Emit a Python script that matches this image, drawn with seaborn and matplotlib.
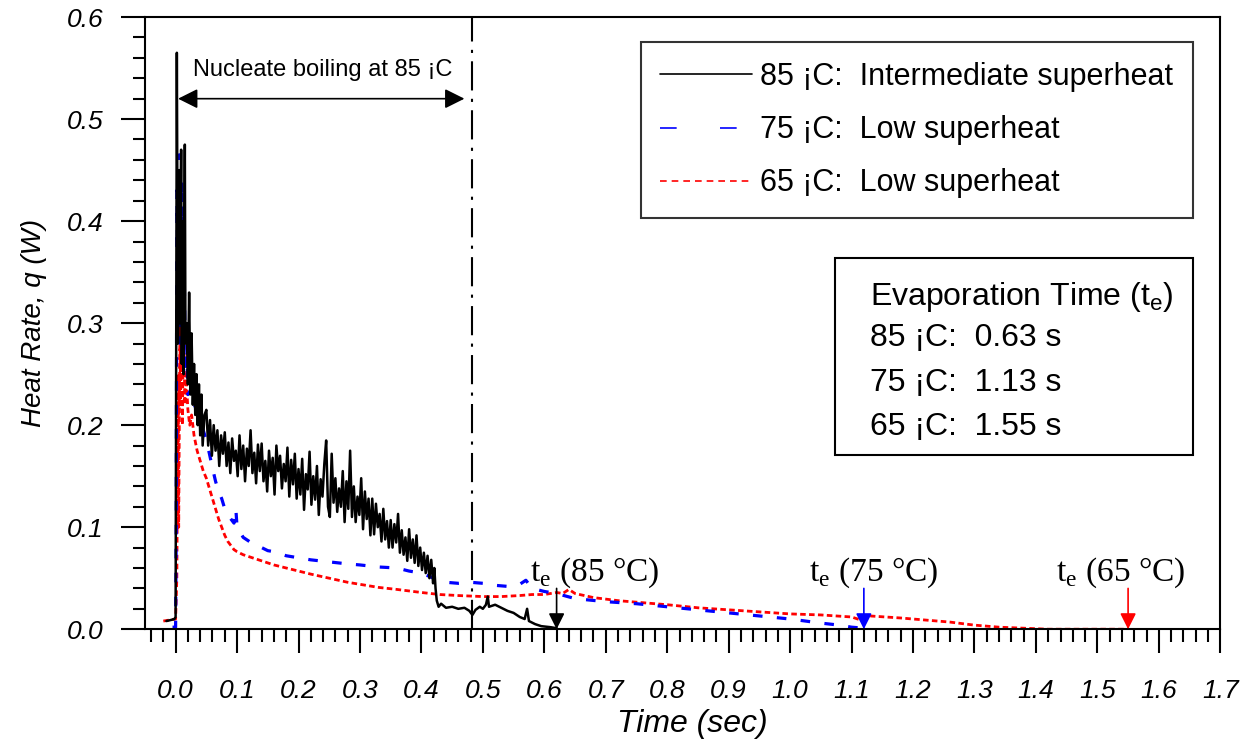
import pandas as pd
import matplotlib
matplotlib.use("Agg")
import matplotlib.pyplot as plt
import seaborn as sns
from matplotlib.lines import Line2D
from matplotlib.ticker import FixedLocator, MultipleLocator, FormatStrFormatter
from matplotlib.patches import Rectangle

sns.set_style("ticks")
plt.rcParams['font.family'] = ['Liberation Sans', 'DejaVu Sans']
plt.rcParams['text.color'] = 'black'
plt.rcParams['axes.labelcolor'] = 'black'
plt.rcParams['xtick.color'] = 'black'
plt.rcParams['ytick.color'] = 'black'

# 85 C curve (intermediate superheat)
t85 = [-0.015, -0.008, -0.002, 0.0, 0.001, 0.002, 0.003, 0.004, 0.006, 0.007,
       0.009, 0.010, 0.012, 0.013, 0.015, 0.016, 0.018, 0.020, 0.022, 0.024,
       0.026, 0.028, 0.030, 0.032, 0.034, 0.036, 0.038, 0.040, 0.042, 0.044, 0.047,
       0.050, 0.053, 0.056, 0.059, 0.062, 0.065, 0.068, 0.071, 0.074, 0.077,
       0.080, 0.083, 0.086, 0.089, 0.092, 0.095, 0.098, 0.101, 0.104, 0.107,
       0.110, 0.113, 0.116, 0.119, 0.122, 0.125, 0.128, 0.131, 0.134, 0.137,
       0.140, 0.143, 0.146, 0.149, 0.152, 0.155, 0.158, 0.161, 0.164, 0.167,
       0.170, 0.173, 0.176, 0.179, 0.182, 0.185, 0.188, 0.191, 0.194, 0.197,
       0.200, 0.203, 0.206, 0.209, 0.212, 0.215, 0.218, 0.221, 0.224, 0.227,
       0.230, 0.233, 0.236, 0.239, 0.242, 0.245, 0.248, 0.251, 0.254, 0.257,
       0.260, 0.263, 0.266, 0.269, 0.272, 0.275, 0.278, 0.281, 0.284, 0.287,
       0.290, 0.293, 0.296, 0.299, 0.302, 0.305, 0.308, 0.311, 0.314, 0.317,
       0.320, 0.323, 0.326, 0.329, 0.332, 0.335, 0.338, 0.341, 0.344, 0.347,
       0.350, 0.353, 0.356, 0.359, 0.362, 0.365, 0.368, 0.371, 0.374, 0.377,
       0.380, 0.383, 0.386, 0.389, 0.392, 0.395, 0.398, 0.401, 0.404, 0.407,
       0.410, 0.413, 0.416, 0.419,
       0.421, 0.423, 0.425, 0.428, 0.432, 0.440, 0.450, 0.460, 0.470, 0.478,
       0.483, 0.488, 0.495, 0.500, 0.505, 0.508, 0.510, 0.520, 0.530, 0.540,
       0.550, 0.560, 0.568, 0.572, 0.575, 0.585, 0.595, 0.610, 0.620]
q85 = [0.008, 0.009, 0.010, 0.012, 0.300, 0.565, 0.400, 0.280, 0.450, 0.300,
       0.470, 0.260, 0.400, 0.250, 0.475, 0.280, 0.300, 0.240, 0.330, 0.230,
       0.290, 0.220, 0.260, 0.210, 0.250, 0.200, 0.240, 0.190, 0.230, 0.180, 0.210,
       0.215, 0.180, 0.205, 0.170, 0.200, 0.175, 0.195, 0.160, 0.190, 0.172,
       0.193, 0.160, 0.183, 0.153, 0.187, 0.165, 0.175, 0.150, 0.190, 0.157,
       0.180, 0.145, 0.177, 0.160, 0.195, 0.153, 0.173, 0.143, 0.181, 0.155,
       0.182, 0.145, 0.165, 0.135, 0.175, 0.150, 0.168, 0.132, 0.180, 0.155,
       0.170, 0.138, 0.162, 0.145, 0.178, 0.130, 0.166, 0.142, 0.172, 0.128,
       0.157, 0.132, 0.167, 0.117, 0.152, 0.137, 0.174, 0.122, 0.150, 0.127,
       0.160, 0.112, 0.147, 0.130, 0.162, 0.185, 0.120, 0.110, 0.172, 0.124,
       0.148, 0.115, 0.138, 0.120, 0.155, 0.105, 0.145, 0.118, 0.175, 0.110,
       0.140, 0.105, 0.130, 0.112, 0.148, 0.098, 0.135, 0.108, 0.128, 0.092,
       0.128, 0.093, 0.123, 0.100, 0.113, 0.086, 0.118, 0.088, 0.106, 0.080,
       0.107, 0.080, 0.103, 0.085, 0.113, 0.075, 0.097, 0.073, 0.090, 0.067,
       0.098, 0.070, 0.088, 0.065, 0.092, 0.062, 0.080, 0.058, 0.075, 0.055,
       0.072, 0.050, 0.068, 0.045,
       0.060, 0.040, 0.028, 0.022, 0.025, 0.021, 0.022, 0.020, 0.021, 0.018,
       0.014, 0.019, 0.022, 0.020, 0.024, 0.032, 0.022, 0.024, 0.021, 0.018,
       0.016, 0.012, 0.010, 0.020, 0.008, 0.005, 0.003, 0.002, 0.001]

# 75 C curve (low superheat)
t75 = [-0.005, 0.0, 0.001, 0.002, 0.004, 0.006, 0.008, 0.010, 0.012, 0.014,
       0.016, 0.018, 0.020, 0.025, 0.030, 0.035, 0.040, 0.045, 0.050, 0.055,
       0.060, 0.065, 0.070, 0.075, 0.080, 0.085, 0.090, 0.095, 0.098, 0.100,
       0.105, 0.110, 0.120, 0.130, 0.140, 0.150, 0.160, 0.180, 0.200, 0.220,
       0.250, 0.280, 0.300, 0.330, 0.360, 0.380, 0.400, 0.420, 0.440, 0.460,
       0.480, 0.500, 0.520, 0.540, 0.560, 0.570, 0.580, 0.600, 0.620, 0.650,
       0.700, 0.750, 0.800, 0.850, 0.900, 0.950, 1.000, 1.050, 1.080, 1.100, 1.120]
q75 = [0.002, 0.002, 0.100, 0.430, 0.320, 0.465, 0.280, 0.440, 0.260, 0.350,
       0.250, 0.280, 0.230, 0.235, 0.220, 0.215, 0.205, 0.195, 0.185, 0.172,
       0.158, 0.145, 0.135, 0.128, 0.118, 0.112, 0.108, 0.104, 0.118, 0.100,
       0.095, 0.090, 0.086, 0.082, 0.080, 0.077, 0.076, 0.072, 0.070, 0.068,
       0.066, 0.064, 0.063, 0.061, 0.060, 0.057, 0.055, 0.050, 0.046, 0.045,
       0.046, 0.045, 0.043, 0.042, 0.044, 0.048, 0.040, 0.037, 0.035, 0.030,
       0.027, 0.025, 0.022, 0.019, 0.016, 0.013, 0.010, 0.006, 0.004, 0.002, 0.001]

# 65 C curve (low superheat)
t65 = [-0.020, -0.010, 0.0, 0.002, 0.004, 0.005, 0.007, 0.008, 0.010, 0.011,
       0.013, 0.015, 0.017, 0.020, 0.023, 0.026, 0.030, 0.035, 0.040, 0.045,
       0.050, 0.055, 0.060, 0.065, 0.070, 0.075, 0.080, 0.085, 0.090, 0.095,
       0.100, 0.110, 0.120, 0.140, 0.160, 0.180, 0.200, 0.220, 0.250, 0.280,
       0.300, 0.330, 0.360, 0.400, 0.430, 0.460, 0.500, 0.530, 0.560, 0.580,
       0.600, 0.620, 0.630, 0.640, 0.650, 0.680, 0.720, 0.760, 0.800, 0.850,
       0.900, 0.950, 1.000, 1.050, 1.100, 1.115, 1.130, 1.180, 1.220, 1.260,
       1.300, 1.340, 1.380, 1.420, 1.550]
q65 = [0.008, 0.009, 0.010, 0.050, 0.250, 0.100, 0.300, 0.220, 0.330, 0.200,
       0.310, 0.220, 0.250, 0.215, 0.200, 0.210, 0.190, 0.175, 0.165, 0.155,
       0.148, 0.138, 0.128, 0.118, 0.108, 0.100, 0.092, 0.086, 0.082, 0.078,
       0.076, 0.073, 0.071, 0.067, 0.063, 0.060, 0.057, 0.054, 0.050, 0.046,
       0.044, 0.041, 0.039, 0.036, 0.034, 0.033, 0.032, 0.032, 0.033, 0.034,
       0.034, 0.036, 0.035, 0.039, 0.035, 0.031, 0.028, 0.026, 0.024, 0.021,
       0.019, 0.017, 0.015, 0.014, 0.012, 0.009, 0.013, 0.011, 0.009, 0.007,
       0.004, 0.002, 0.001, 0.000, 0.000]

labels = ["85 ¡C:  Intermediate superheat", "75 ¡C:  Low superheat", "65 ¡C:  Low superheat"]
evap_lines = ["85 ¡C:  0.63 s", "75 ¡C:  1.13 s", "65 ¡C:  1.55 s"]
te_times = [0.62, 1.12, 1.55]
te_text_x = [0.577, 1.031, 1.432]
te_names = ["85 °C", "75 °C", "65 °C"]
te_colors = ["black", "blue", "red"]
xticks = [0.0, 0.1, 0.2, 0.3, 0.4, 0.5, 0.6, 0.7, 0.8, 0.9, 1.0, 1.1, 1.2, 1.3, 1.4, 1.5, 1.6, 1.7]
yticks = [0.0, 0.1, 0.2, 0.3, 0.4, 0.5, 0.6]
boiling_end = 0.482

df85 = pd.DataFrame({"t": t85, "q": q85})
df75 = pd.DataFrame({"t": t75, "q": q75})
df65 = pd.DataFrame({"t": t65, "q": q65})

fig = plt.figure(figsize=(12.49, 7.42), dpi=100)
ax = fig.add_axes([0.116, 0.152, 0.861, 0.825])

sns.lineplot(data=df65, x="t", y="q", ax=ax, color="red", linewidth=2.0,
             sort=False, estimator=None)
ax.lines[-1].set_linestyle((0, (2, 1.2)))
sns.lineplot(data=df75, x="t", y="q", ax=ax, color="blue", linewidth=2.3,
             sort=False, estimator=None)
ax.lines[-1].set_linestyle((0, (3, 4.5)))
sns.lineplot(data=df85, x="t", y="q", ax=ax, color="black", linestyle="-", linewidth=1.8,
             sort=False, estimator=None)

ax.set_xlim(-0.05, 1.7)
ax.set_ylim(0, 0.6)

ax.xaxis.set_major_locator(FixedLocator(xticks))
ax.xaxis.set_minor_locator(MultipleLocator(0.02))
ax.yaxis.set_major_locator(FixedLocator(yticks))
ax.yaxis.set_minor_locator(MultipleLocator(0.02))
ax.xaxis.set_major_formatter(FormatStrFormatter('%.1f'))
ax.yaxis.set_major_formatter(FormatStrFormatter('%.1f'))
ax.tick_params(axis='x', which='major', direction='out', length=17, width=1.5, pad=19, labelsize=19)
ax.tick_params(axis='x', which='minor', direction='out', length=9, width=1.5)
ax.tick_params(axis='y', which='major', direction='out', length=17, width=1.5, pad=13, labelsize=19)
ax.tick_params(axis='y', which='minor', direction='out', length=9, width=1.5)
for lab in ax.get_xticklabels() + ax.get_yticklabels():
    lab.set_fontstyle('italic')

for sp in ax.spines.values():
    sp.set_visible(True)
    sp.set_linewidth(1.5)
    sp.set_color('black')

ax.set_xlabel("Time (sec)", fontsize=23, fontstyle='italic', labelpad=4, x=0.509)
ax.set_ylabel("Heat Rate, q (W)", fontsize=20, fontstyle='italic', labelpad=14)

# nucleate boiling region
ax.axvline(boiling_end, color='black', linewidth=1.5, linestyle=(0, (14, 4, 1.5, 4)))
ax.annotate('', xy=(0.004, 0.52), xytext=(0.47, 0.52),
            arrowprops=dict(arrowstyle='<|-|>', color='black', lw=1.2, mutation_scale=30,
                            shrinkA=0, shrinkB=0))
ax.text(0.028, 0.548, "Nucleate boiling at 85 ¡C", fontsize=17, ha='left', va='center')

# evaporation time markers
for tt, tx, nm, col in zip(te_times, te_text_x, te_names, te_colors):
    ax.annotate('', xy=(tt, 0.0), xytext=(tt, 0.04),
                arrowprops=dict(arrowstyle='-|>', color=col, lw=1.2, mutation_scale=24,
                                shrinkA=0, shrinkB=0))
    ax.text(tx, 0.055, "t$_\\mathregular{e}$ (" + nm + ")", fontsize=24,
            family=['Liberation Serif', 'DejaVu Serif'], ha='left', va='center')

# legend
handles = [Line2D([], [], color='black', linestyle='-', linewidth=1.2),
           Line2D([], [], color='blue', linestyle=(0, (10, 26)), linewidth=1.2),
           Line2D([], [], color='red', linestyle=(0, (4, 3)), linewidth=1.2)]
leg = ax.legend(handles, labels, loc='upper left', bbox_to_anchor=(0.461, 0.959),
                fontsize=22, frameon=True, fancybox=False, edgecolor='black',
                handlelength=3.0, handletextpad=0.25, labelspacing=0.76,
                borderpad=0.65, borderaxespad=0)
leg.get_frame().set_linewidth(1.5)

# evaporation time box
ax.add_patch(Rectangle((0.642, 0.284), 0.333, 0.322, transform=ax.transAxes,
                       facecolor='white', edgecolor='black', linewidth=1.5, zorder=5))
ax.text(0.674, 0.542, "Evaporation Time (t$_\\mathregular{e}$)", transform=ax.transAxes,
        fontsize=23, ha='left', va='center', zorder=6)
for i, s in enumerate(evap_lines):
    ax.text(0.674, 0.475 - 0.072 * i, s, transform=ax.transAxes,
            fontsize=23, ha='left', va='center', zorder=6)

fig.savefig("out.png", dpi=100)
